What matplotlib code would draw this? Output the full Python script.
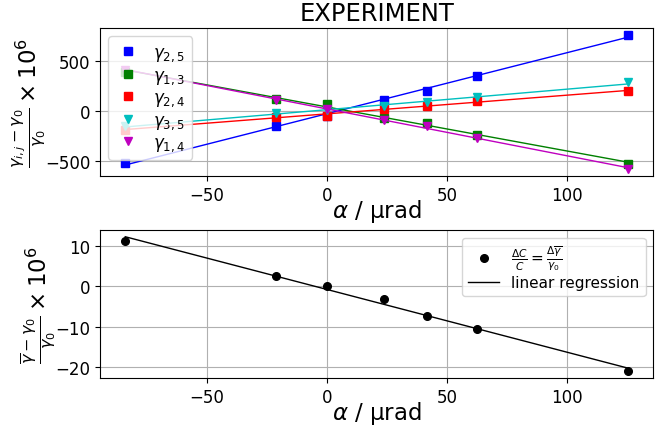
import numpy as np
import matplotlib.pyplot as plt

# tilt angles (µrad)
alpha = np.array([-84, -21, 0, 23.7, 41.7, 62.5, 125.5])

# relative change of gamma per pair (x 1e6)
g25 = np.array([-525, -150, -50, 110, 200, 355, 765])
g13 = np.array([395, 120, 70, -68, -125, -240, -535])
g24 = np.array([-190, -60, -50, 20, 50, 95, 200])
g35 = np.array([-155, -25, 10, 50, 85, 135, 285])
g14 = np.array([410, 105, 20, -90, -150, -270, -590])

# mean relative change (x 1e6)
gmean = np.array([11.2, 2.7, 0.0, -3.0, -7.4, -10.6, -21.0])

series = [
    (g25, "b", "s", r"$\gamma_{2,5}$"),
    (g13, "g", "s", r"$\gamma_{1,3}$"),
    (g24, "r", "s", r"$\gamma_{2,4}$"),
    (g35, "c", "v", r"$\gamma_{3,5}$"),
    (g14, "m", "v", r"$\gamma_{1,4}$"),
]

xfit = np.array([alpha.min(), alpha.max()])

fig = plt.figure(figsize=(6.72, 4.27), dpi=100)
ax1 = fig.add_axes([0.149, 0.585, 0.823, 0.347])
ax2 = fig.add_axes([0.149, 0.112, 0.823, 0.347])

# ---------------------------------------------------------------------------
# top: individual pairs

for vals, col, mk, lab in series:
    ax1.plot(alpha, vals, mk, color=col, markersize=6, label=lab)
    k, b = np.polyfit(alpha, vals, 1)
    ax1.plot(xfit, k * xfit + b, "-", color=col, linewidth=1)

ax1.set_title("EXPERIMENT", fontsize=17.5)
ax1.set_xlabel(r"$\alpha$ / µrad", fontsize=16.5, labelpad=-5)
ax1.set_ylabel(r"$\frac{\gamma_{i,j}-\gamma_0}{\gamma_0}\times 10^6$", fontsize=16.5, labelpad=-2)
ax1.tick_params(labelsize=12)
ax1.grid(True)
ax1.legend(loc="upper left", fontsize=12, labelspacing=0.15,
           handlelength=1.6, handletextpad=0.7)

# ---------------------------------------------------------------------------
# bottom: mean

ax2.plot(alpha, gmean, "o", color="k", markersize=5.5,
         label=r"$\frac{\Delta C}{C} = \frac{\Delta \overline{\gamma}}{\gamma_0}$")
k, b = np.polyfit(alpha, gmean, 1)
ax2.plot(xfit, k * xfit + b, "-", color="k", linewidth=1, label="linear regression")

ax2.set_xlabel(r"$\alpha$ / µrad", fontsize=16.5, labelpad=-5)
ax2.set_ylabel(r"$\frac{\overline{\gamma}-\gamma_0}{\gamma_0}\times 10^6$", fontsize=16.5, labelpad=-2)
ax2.tick_params(labelsize=12)
ax2.grid(True)
ax2.legend(loc="upper right", fontsize=11, labelspacing=0.2)

fig.savefig("out.png")
